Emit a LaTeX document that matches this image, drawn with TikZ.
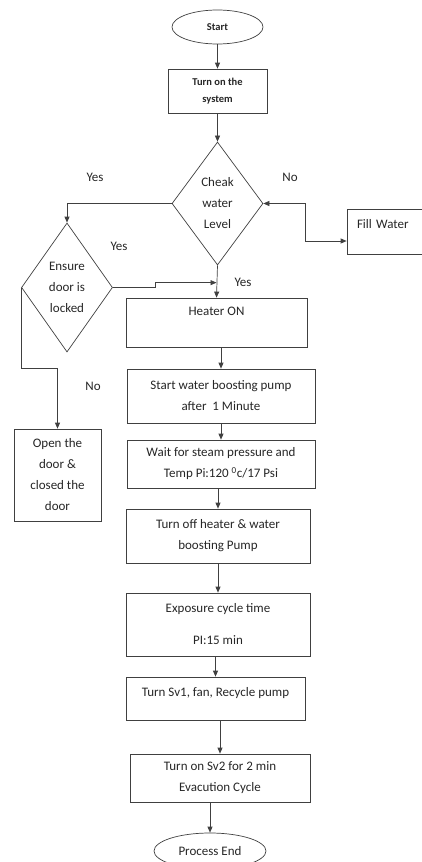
\documentclass[tikz,border=0pt]{standalone}
\usepackage{fontspec}
\setmainfont{Carlito}
\usetikzlibrary{shapes.geometric,arrows.meta}

\tikzset{
  flowbox/.style={draw, rectangle, inner sep=0pt, align=center},
  decision/.style={draw, diamond, inner sep=0pt, align=center},
  terminal/.style={draw, ellipse, inner sep=0pt, align=center},
  lbl/.style={inner sep=0pt}
}

\begin{document}
\begin{tikzpicture}[x=1pt, y=-1pt, line width=0.7pt, draw=black!75, text=black!85,
    font=\fontsize{13}{21}\selectfont, >={Triangle[length=6pt,width=5pt]}]

\useasboundingbox ( 0, 0 ) rectangle ( 422, 862 );

%% Start
\node [terminal, minimum width=91, minimum height=34, font=\fontsize{10.5}{17}\selectfont\bfseries] (start) at ( 217.5, 27 ) {Start};
\node [flowbox, minimum width=99, minimum height=44, font=\fontsize{10.5}{17}\selectfont\bfseries] (turnon) at ( 217.5, 91 ) {Turn on the\\system};

%% Water level check
\node [decision, minimum width=91, minimum height=123] (cheak) at ( 217.5, 203.5 ) {Cheak\\water\\Level};
\node [flowbox, minimum width=80, minimum height=45, text width=60, align=left, inner xsep=10, text depth=15.5pt] (fill) at ( 387, 231.5 ) {Fill Water};

%% Door check
\node [decision, minimum width=91, minimum height=129] (ensure) at ( 67, 287.5 ) {Ensure\\door is\\locked};
\node [flowbox, minimum width=87, minimum height=92] (open) at ( 57.5, 475 ) {Open the\\door \&\\closed the\\door};

%% Main sequence
\node [flowbox, minimum width=181, minimum height=49, text depth=21.5pt] (heater) at ( 216.5, 322.5 ) {Heater ON};
\node [flowbox, minimum width=188, minimum height=54] (boost) at ( 221, 396 ) {Start water boosting pump\\after~ 1 Minute};
\node [flowbox, minimum width=188, minimum height=48] (wait) at ( 221, 464 ) {Wait for steam pressure and\\Temp Pi:120 \textsuperscript{0}c/17 Psi};
\node [flowbox, minimum width=184, minimum height=54] (turnoff) at ( 218, 536 ) {Turn off heater \& water\\boosting Pump};
\node [flowbox, minimum width=184, minimum height=63] (expo) at ( 218, 624.5 ) {Exposure cycle time\\[11pt]PI:15 min};
\node [flowbox, minimum width=179, minimum height=43, text depth=13.5pt] (sv1) at ( 215.5, 698.5 ) {Turn Sv1, fan, Recycle pump};
\node [flowbox, minimum width=180, minimum height=48] (sv2) at ( 220, 778 ) {Turn on Sv2 for 2 min\\Evacution Cycle};
\node [terminal, minimum width=112, minimum height=36] (end) at ( 210, 851 ) {Process End};

%% Labels
\node [lbl] (yes1) at ( 95, 177 ) {Yes};
\node [lbl] (no1) at ( 290, 177 ) {No};
\node [lbl] (yes2) at ( 119, 246 ) {Yes};
\node [lbl] (yes3) at ( 243, 282 ) {Yes};
\node [lbl] (no2) at ( 93, 386 ) {No};

%% Connectors
\draw [->] (start) -- (turnon);
\draw [->] (turnon) -- (cheak);
\draw [->] (cheak.west) -| (ensure.north);
\draw [<->] (cheak.east) -- ++( 42, 0 ) |- ([yshift=-9.5pt]fill.west);
\draw [->] (cheak.south) -- (heater.north);
\draw [->] (ensure.east) -- ++( 42, 0 ) |- ([yshift=15pt]heater.north);
\draw [->] (ensure.west) -- ++( 0, 81 ) -| (open.north);

\foreach \a/\b in {heater/boost, boost/wait, wait/turnoff, turnoff/expo, expo/sv1, sv1/sv2, sv2/end}
  \draw [->] (\a.south -| \b.north) -- (\b.north);

\end{tikzpicture}
\end{document}
